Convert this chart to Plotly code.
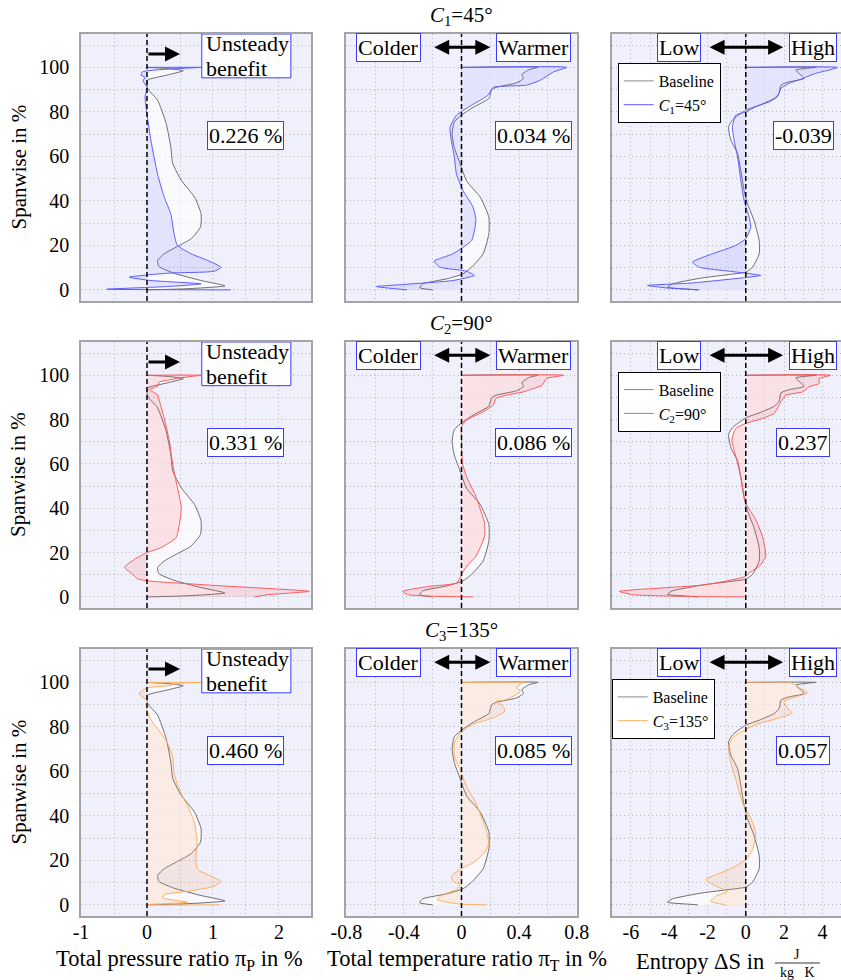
import plotly.graph_objects as go

W, H = 841, 980
FONT = "Liberation Serif"

# ---------------- data ----------------
span_ticks = [0, 20, 40, 60, 80, 100]
p_ticks = [-1, 0, 1, 2]
p_tick_text = ["-1", "0", "1", "2"]
t_ticks = [-0.8, -0.4, 0, 0.4, 0.8]
t_tick_text = ["-0.8", "-0.4", "0", "0.4", "0.8"]
s_ticks = [-6, -4, -2, 0, 2, 4]
s_tick_text = ["-6", "-4", "-2", "0", "2", "4"]

case_names = ["<i>C</i><sub>1</sub>=45°", "<i>C</i><sub>2</sub>=90°", "<i>C</i><sub>3</sub>=135°"]
case_colors = ["#5c5cff", "#ff5a5a", "#ffae5c"]
case_fills = ["rgba(92,92,255,0.13)", "rgba(255,90,90,0.15)", "rgba(255,160,80,0.15)"]

gain_p = ["0.226 %", "0.331 %", "0.460 %"]
gain_t = ["0.034 %", "0.086 %", "0.085 %"]
gain_s = ["-0.039", "0.237", "0.057"]

# total pressure ratio profiles
base_p_val = [0, 0.3, 0.55, 0.3, 0.01, 0.0, 0.02, 0.16, 0.29, 0.36, 0.39, 0.52, 0.72, 0.82, 0.81,
              0.67, 0.46, 0.26, 0.16, 0.18, 0.41, 0.82, 1.18, 0.6, 0]
base_p_span = [100, 99.5, 98.5, 96.5, 94.3, 92, 90, 85.3, 74.8, 64.3, 56.8, 49.2, 41.7, 34.2, 28.2,
               23, 19.5, 16.2, 13.2, 10.5, 7.5, 4.2, 1.8, 0.5, 0]
c1_p_val = [0, 0.82, 0.5, 0.26, -0.07, -0.09, -0.03, -0.06, 0, -0.03, 0, 0.06, 0.16, 0.26, 0.36,
            0.41, 0.46, 0.67, 0.92, 1.12, 1.02, 0.31, -0.27, 0.06, 0.82, 0.31, -0.61, 1.27]
c1_p_span = [100, 100, 99.5, 99.1, 98, 96.5, 95.5, 94, 91, 86.8, 79, 67, 52, 41.7, 34.2,
             25.2, 20, 16.2, 13.2, 10.2, 8.4, 7.5, 5.7, 4.2, 2.7, 1.5, 0.3, 0]
c2_p_val = [0, 0.82, 0.52, 0.31, 0.19, 0.16, 0.035, 0.16, 0.19, 0.26, 0.34, 0.39, 0.44, 0.52, 0.49,
            0.44, 0.21, 0, -0.19, -0.34, -0.22, -0.14, 0.06, 1.07, 2.46, 1.83, 1.63]
c2_p_span = [100, 100, 98.9, 97.7, 97, 95, 93.5, 91.2, 88.2, 80.7, 70.2, 59.7, 52.2, 40.2, 32.7,
             26.7, 22.2, 20, 17, 13.3, 10.3, 8.1, 7.1, 5.1, 2.5, 1, 0]
c3_p_val = [0, 0.82, 0.52, 0.31, 0, -0.12, -0.09, 0, 0, 0.06, 0.21, 0.31, 0.39, 0.41, 0.49, 0.64,
            0.72, 0.76, 0.74, 0.77, 0.97, 1.12, 1.02, 0.62, 0.26, 0.24, 0.41, 0.62, 0.1, 0, 1.1]
c3_p_span = [100, 100, 99.7, 98.5, 97.5, 95.2, 93.7, 92.2, 87.7, 83.2, 77.2, 72.8, 66.8, 59.3, 51.8,
             42.8, 36.8, 27.8, 20.4, 15.9, 12.9, 10.6, 8.4, 6.1, 4.6, 3.1, 2.1, 1.2, 0.3, 0, 0]

# total temperature ratio profiles
base_t_val = [0, 0.53, 0.47, 0.42, 0.43, 0.38, 0.24, 0.21, 0.2, 0.19, 0.08, 0.01, -0.05, -0.065,
              -0.05, -0.01, 0.035, 0.13, 0.19, 0.19, 0.15, 0.07, 0.01, -0.1, -0.27, -0.29, -0.2]
base_t_span = [100, 100, 99, 96.8, 95, 93, 91, 90, 88, 86, 82, 79, 75.5, 70,
               64, 56.8, 49, 41.7, 32.7, 25.2, 16.2, 10.2, 7.2, 5, 2.7, 1, 0]
c1_t_val = [0, 0.73, 0.64, 0.55, 0.45, 0.22, 0.19, 0.17, 0.07, -0.035, -0.08, -0.07, -0.05, -0.035,
            0.01, 0.08, 0.1, 0.07, -0.06, -0.19, -0.15, 0.035, 0.09, -0.06, -0.41, -0.59, -0.38]
c1_t_span = [100, 100, 98, 94.3, 92, 91, 88, 86.8, 83, 78.5, 73, 67, 59.8, 52,
             44.7, 37.2, 31.2, 22.2, 16.2, 12.9, 10.2, 8.4, 6.5, 4.2, 2.4, 1.5, 0]
c2_t_val = [0, 0.71, 0.59, 0.56, 0.5, 0.43, 0.31, 0.24, 0.22, 0.15, 0.035, 0, 0, 0.007, 0.035, 0.1,
            0.16, 0.16, 0.1, 0.035, 0.007, -0.035, -0.22, -0.41, -0.37, -0.2, 0.08]
c2_t_span = [100, 100, 98.5, 95.5, 94, 92.5, 91, 89.5, 86.5, 83.5, 79.8, 76.8, 70.8, 60.3, 54.3, 45.3,
             33.3, 27.3, 18.3, 13.8, 10.8, 6.3, 4.8, 2.5, 1, 0.3, 0]
c3_t_val = [0, 0.45, 0.42, 0.38, 0.41, 0.31, 0.24, 0.29, 0.3, 0.22, 0.1, 0.035, -0.01, -0.05, -0.05,
            -0.01, 0.035, 0.1, 0.17, 0.19, 0.16, 0.08, -0.01, -0.07, -0.06, -0.01, -0.035, -0.13,
            -0.17, -0.1, 0, 0.17]
c3_t_span = [100, 100, 99.7, 97.5, 96, 92.2, 91.5, 89.2, 87, 84, 81.7, 79.5, 77.2, 72.8, 66.8,
             60.8, 53.3, 45.8, 33.8, 27.8, 23.4, 18.9, 15.9, 12.9, 10.6, 9.1, 6.9, 4.6,
             2.4, 1.2, 0.3, 0]

# entropy profiles
base_s_val = [0, 3.65, 2.61, 3.04, 2.26, 1.83, 1.74, 1.48, 0.7, 0, -0.7, -0.9, -0.78, -0.43, -0.26,
              -0.09, 0.09, 0.43, 0.7, 0.7, 0.35, 0, -0.87, -2.26, -3.83, -4.09, -2.96, -2.5]
base_s_span = [100, 100, 98.8, 95, 93.5, 92, 88.3, 86, 83, 80.8, 76.3, 73.3, 67.3, 61.3, 53.8,
               44.7, 38.7, 31.2, 22.2, 16.2, 10.2, 8, 6.9, 5.4, 2.7, 1.2, 0.3, 0]
c1_s_val = [0, 4.78, 4.35, 3.65, 2.96, 2.26, 1.83, 1.65, 1.22, 0.52, 0, -0.52, -0.7, -0.61, -0.43,
            -0.26, -0.09, 0.17, 0.26, 0, -0.52, -1.74, -2.78, -2.43, -0.87, 0.78, -0.17, -2.96,
            -5.13, -4.17, -2.43]
c1_s_span = [100, 100, 98.8, 97.3, 95, 92.8, 90.5, 86.8, 84.5, 82.3, 80, 78.5, 73.3, 67.3, 59.8,
             49.2, 40.2, 32.7, 28.2, 23, 20, 16.2, 12.5, 10.2, 8.4, 6.5, 5.4, 3,
             2, 0.9, 0]
c2_s_val = [0, 4.43, 3.83, 3.83, 3.3, 2.96, 2.09, 1.83, 1.48, 0.87, 0, -0.52, -0.73, -0.52, -0.26,
            0, 0.52, 0.87, 1.04, 0.7, 0.17, 0, -2.09, -6.6, -5.9, -3.0, 0]
c2_s_span = [100, 100, 98.5, 96.3, 94.8, 92.5, 91, 88, 82.8, 80.5, 78.3, 76, 70.8, 63.3, 54.3,
             42.3, 34.8, 27.3, 18.3, 13.8, 10.8, 9.3, 5.5, 2.5, 1, 0.2, 0]
c3_s_val = [0, 2.3, 2.7, 3.22, 2.7, 2.0, 2.17, 2.43, 1.74, 0.52, -0.17, -0.7, -0.9, -0.78, -0.52,
            -0.17, 0.26, 0.52, 0.35, 0, -0.87, -2.09, -1.57, -0.96, -1.57, -1.83, -1.04]
c3_s_span = [100, 100, 98.2, 95.2, 93.7, 91.5, 88.5, 86.2, 84, 81, 78, 75, 70.5, 63.8, 56.3,
             45.8, 39, 32.3, 24.9, 20.4, 15.9, 11.4, 8.4, 6.1, 3.9, 1.6, 0]

baselines = [(base_p_val, base_p_span), (base_t_val, base_t_span), (base_s_val, base_s_span)]
variants = [
    [(c1_p_val, c1_p_span), (c1_t_val, c1_t_span), (c1_s_val, c1_s_span)],
    [(c2_p_val, c2_p_span), (c2_t_val, c2_t_span), (c2_s_val, c2_s_span)],
    [(c3_p_val, c3_p_span), (c3_t_val, c3_t_span), (c3_s_val, c3_s_span)],
]

# ---------------- layout geometry (pixels) ----------------
col_px = [(81, 311), (346.3, 576.7), (611.7, 841)]
row_px = [(34, 301), (342, 608), (649, 916)]
x_ranges = [[-1, 2.485], [-0.8, 0.8], [-7, 4.97]]
x_minor = [0.5, 0.2, 1]
y_range = [-5, 115]


def px_x(p):
    return p / W


def px_y(p):
    return 1 - p / H


fig = go.Figure()
layout = dict(
    width=W, height=H, margin=dict(l=0, r=0, t=0, b=0, pad=0, autoexpand=False),
    paper_bgcolor="white", plot_bgcolor="#f0f0fd",
    font=dict(family=FONT, size=20, color="black"),
    showlegend=True,
)
annotations = []
shapes = []

grid_col = "#b4b4bc"
grid_dash = "1px,3px"
box_blue = "#3b3bff"
line_style = dict(shape="spline", smoothing=0.5, width=1)


def paper_text(text, x, y, size=20, **kw):
    return dict(xref="paper", yref="paper", x=px_x(x), y=px_y(y), text=text, showarrow=False,
                xanchor="center", yanchor="middle", font=dict(size=size), **kw)


for r in range(3):
    for c in range(3):
        idx = r * 3 + c + 1
        xa = "xaxis" if idx == 1 else f"xaxis{idx}"
        ya = "yaxis" if idx == 1 else f"yaxis{idx}"
        xr = "x" if idx == 1 else f"x{idx}"
        yr = "y" if idx == 1 else f"y{idx}"
        ticks_cfg = [(p_ticks, p_tick_text), (t_ticks, t_tick_text), (s_ticks, s_tick_text)][c]
        layout[xa] = dict(
            domain=[px_x(col_px[c][0]), min(1.0, px_x(col_px[c][1]))],
            range=x_ranges[c], anchor=yr, automargin=False,
            tickmode="array", tickvals=ticks_cfg[0], ticktext=ticks_cfg[1],
            showticklabels=(r == 2), ticks="", ticklabelstandoff=-3,
            showgrid=True, gridcolor=grid_col, griddash=grid_dash, gridwidth=1,
            minor=dict(tickmode="linear", tick0=0, dtick=x_minor[c], showgrid=True,
                       gridcolor=grid_col, griddash=grid_dash, gridwidth=1, ticks=""),
            zeroline=False, showline=True, mirror=True, linecolor="#a4a4a4", linewidth=1.5,
            tickfont=dict(size=20),
        )
        layout[ya] = dict(
            domain=[px_y(row_px[r][1]), px_y(row_px[r][0])],
            range=y_range, anchor=xr, automargin=False,
            tickmode="array", tickvals=span_ticks, ticktext=[str(v) for v in span_ticks],
            showticklabels=(c == 0), ticks="", ticklabelstandoff=6,
            showgrid=True, gridcolor=grid_col, griddash=grid_dash, gridwidth=1,
            minor=dict(tickmode="linear", tick0=0, dtick=10, showgrid=True,
                       gridcolor=grid_col, griddash=grid_dash, gridwidth=1, ticks=""),
            zeroline=False, showline=True, mirror=True, linecolor="#a4a4a4", linewidth=1.5,
            tickfont=dict(size=20),
        )

        bx, by = baselines[c]
        vx, vy = variants[r][c]
        fig.add_trace(go.Scatter(
            x=bx, y=by, xaxis=xr, yaxis=yr, mode="lines", fill="tozerox",
            fillcolor="rgba(255,255,255,0.6)", line=dict(color="#6e6e6e", **line_style),
            showlegend=False, hoverinfo="skip"))
        fig.add_trace(go.Scatter(
            x=vx, y=vy, xaxis=xr, yaxis=yr, mode="lines", fill="tozerox",
            fillcolor=case_fills[r], line=dict(color=case_colors[r], **line_style),
            showlegend=False, hoverinfo="skip"))

        # dashed zero reference
        shapes.append(dict(type="line", xref=xr, yref=f"{yr} domain", x0=0, x1=0, y0=0, y1=1,
                           line=dict(color="black", width=1.5, dash="5px,3px"), layer="above"))

        box = dict(xref=xr, yref=yr, showarrow=False, bgcolor="white", bordercolor=box_blue,
                   borderwidth=1, borderpad=1, font=dict(size=22))
        arrow = dict(xref=xr, yref=yr, axref=xr, ayref=yr, text="", showarrow=True,
                     arrowcolor="black", arrowwidth=3, arrowhead=2, arrowsize=1)
        if c == 0:
            # "Unsteady benefit" frame with two tightly spaced text lines
            shapes.append(dict(type="rect", xref=xr, yref=yr, x0=0.83, x1=2.18, y0=95.3, y1=115,
                               fillcolor="white", line=dict(color=box_blue, width=1),
                               layer="above"))
            annotations.append(dict(xref=xr, yref=yr, text="Unsteady", x=0.87, y=110.6,
                                    xanchor="left", yanchor="middle", showarrow=False,
                                    font=dict(size=22)))
            annotations.append(dict(xref=xr, yref=yr, text="benefit", x=0.87, y=99.6,
                                    xanchor="left", yanchor="middle", showarrow=False,
                                    font=dict(size=22)))
            annotations.append(dict(arrow, x=0.5, y=106, ax=0, ay=106))
            annotations.append(dict(box, text=gain_p[r], x=1.5, y=69.5))
        elif c == 1:
            annotations.append(dict(box, text="Colder", x=-0.51, y=109))
            annotations.append(dict(box, text="Warmer", x=0.5, y=109))
            annotations.append(dict(arrow, x=0.2, y=109, ax=-0.2, ay=109, arrowside="end+start"))
            annotations.append(dict(box, text=gain_t[r], x=0.5, y=69.5))
        else:
            annotations.append(dict(box, text="Low", x=-3.5, y=109))
            annotations.append(dict(box, text="High", x=3.5, y=109))
            annotations.append(dict(arrow, x=1.95, y=109, ax=-1.97, ay=109, arrowside="end+start"))
            annotations.append(dict(box, text=gain_s[r], x=3.0, y=69.5))

    # legend for this row, placed inside the entropy panel
    leg = "legend" if r == 0 else f"legend{r + 1}"
    yr3 = f"y{r * 3 + 3}"
    xr3 = f"x{r * 3 + 3}"
    fig.add_trace(go.Scatter(x=[None], y=[None], xaxis=xr3, yaxis=yr3, mode="lines",
                             name="Baseline", line=dict(color="#8a8a8a", width=1), legend=leg))
    fig.add_trace(go.Scatter(x=[None], y=[None], xaxis=xr3, yaxis=yr3, mode="lines",
                             name=case_names[r], line=dict(color=case_colors[r], width=1),
                             legend=leg))
    leg_top = [63, 371.7, 679][r]
    leg_left = [617.7, 617.7, 611.7][r]
    layout[leg] = dict(x=px_x(leg_left), y=px_y(leg_top), xanchor="left", yanchor="top",
                       bgcolor="white", bordercolor="black", borderwidth=1,
                       font=dict(size=16, family=FONT), tracegroupgap=0, itemwidth=30)

    # case title above the middle column
    annotations.append(paper_text(case_names[r], 461.5, [16, 324, 631][r], size=21))
    # spanwise axis title
    annotations.append(paper_text("Spanwise in %", 18, (row_px[r][0] + row_px[r][1]) / 2,
                                  size=21, textangle=-90))

# bottom axis titles
annotations.append(paper_text("Total pressure ratio π<sub>P</sub> in %", 179, 960, size=22.5))
annotations.append(paper_text("Total temperature ratio π<sub>T</sub> in %", 467, 960, size=22.5))
annotations.append(paper_text("Entropy ΔS in", 700, 961, size=22.5))
annotations.append(paper_text("J", 797, 954, size=14))
annotations.append(paper_text("kg   K", 797, 972, size=14))
shapes.append(dict(type="line", xref="paper", yref="paper", x0=px_x(775), x1=px_x(820),
                   y0=px_y(963), y1=px_y(963), line=dict(color="black", width=0.8)))

layout["annotations"] = annotations
layout["shapes"] = shapes
fig.update_layout(**layout)
fig.write_html("out.html")
